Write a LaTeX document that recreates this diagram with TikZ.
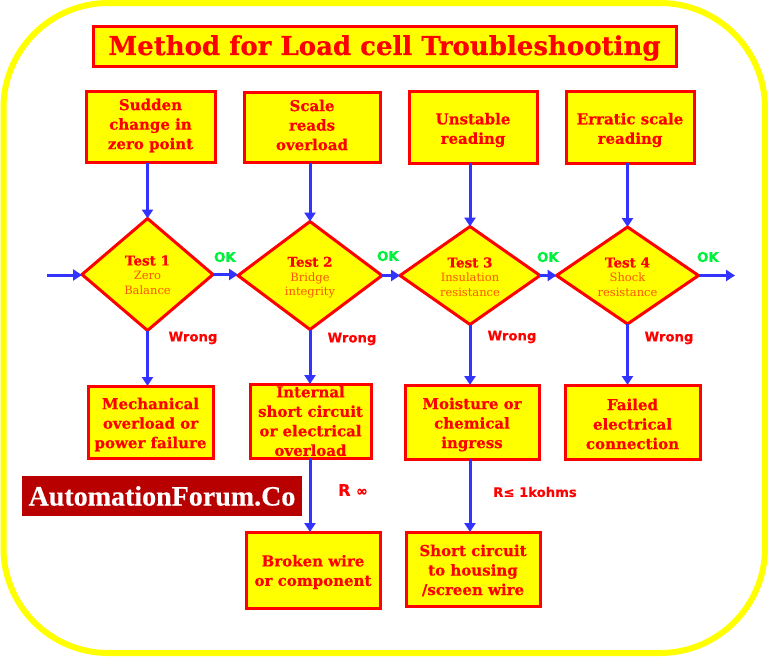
\documentclass[tikz,border=0pt]{standalone}
\usepackage{fontspec}
\setmainfont{DejaVu Serif}[BoldFeatures={FakeBold=0.5}]
\newfontfamily\lblfont{DejaVu Sans}[BoldFont={DejaVu Sans Bold},BoldFeatures={FakeBold=0.4}]
\newfontfamily\logofont{Liberation Serif}[BoldFeatures={FakeBold=0.4}]
\usetikzlibrary{shapes.geometric,arrows.meta}
\definecolor{flowblue}{RGB}{51,51,255}
\definecolor{okgreen}{RGB}{0,240,60}
\definecolor{logored}{RGB}{184,0,0}
\definecolor{thinorange}{RGB}{255,85,0}
\definecolor{pureyellow}{RGB}{255,255,0}
\definecolor{purered}{RGB}{255,0,0}
\tikzset{
  x=1pt,y=-1pt,
  boxnode/.style={draw=purered,fill=pureyellow,line width=3pt,rectangle,inner sep=0pt,outer sep=0pt,align=center,text=purered,font=\fontsize{15}{19.5}\selectfont\bfseries},
  testnode/.style={draw=purered,fill=pureyellow,line width=3pt,diamond,aspect=1.3,inner sep=0pt,outer sep=0pt,align=center,text=thinorange,font=\fontsize{11.5}{14.5}\selectfont},
  flow/.style={draw=flowblue,line width=3pt,-{Triangle[length=9pt,width=11pt]}},
  oklabel/.style={text=okgreen,inner sep=0pt,font=\lblfont\fontsize{13.5}{15}\selectfont\bfseries},
  wronglabel/.style={text=purered,inner sep=0pt,font=\lblfont\fontsize{13.2}{15}\selectfont\bfseries},
}
\newcommand{\testhead}[1]{{\color{purered}\bfseries\fontsize{13.5}{14.5}\selectfont #1}}
\newcommand{\mvl}[2]{\raisebox{#1}[\height][\depth]{#2}}
\begin{document}
\begin{tikzpicture}
\useasboundingbox (0,0) rectangle (768,656);
\fill[white] (0,0) rectangle (768,656);
\draw[pureyellow,line width=6pt,rounded corners=105pt] (3.5,3) rectangle (765,653);
% title
\node[boxnode,minimum width=583pt,minimum height=40pt,font=\fontsize{26}{30}\selectfont\bfseries] (title) at (384.5,46.5) {\mvl{-1.5pt}{Method for Load cell Troubleshooting}};
% top
\node[boxnode,minimum width=129pt,minimum height=71pt] (t1) at (150.5,127) {\mvl{1.5pt}{Sudden}\\\mvl{1.5pt}{change in}\\\mvl{1.5pt}{zero point}};
\node[boxnode,minimum width=136pt,minimum height=70pt] (t2) at (312,127.5) {\mvl{2.5pt}{Scale}\\\mvl{2.5pt}{reads}\\\mvl{2.5pt}{overload}};
\node[boxnode,minimum width=128pt,minimum height=72pt] (t3) at (473,127) {\mvl{-3pt}{Unstable}\\\mvl{-3pt}{reading}};
\node[boxnode,minimum width=128pt,minimum height=72pt] (t4) at (630,127) {\mvl{-3pt}{Erratic scale}\\\mvl{-3pt}{reading}};
% tests
\node[testnode,minimum width=131pt,minimum height=112pt] (d1) at (147.5,274.5) {\mvl{-0.5pt}{\testhead{Test 1}}\\\mvl{-0.5pt}{Zero}\\\mvl{-0.5pt}{Balance}};
\node[testnode,minimum width=144pt,minimum height=108pt] (d2) at (310,275.5) {\mvl{-2pt}{\testhead{Test 2}}\\\mvl{-2pt}{Bridge}\\\mvl{-2pt}{integrity}};
\node[testnode,minimum width=140pt,minimum height=98pt] (d3) at (470,275.5) {\mvl{-1.5pt}{\testhead{Test 3}}\\\mvl{-1.5pt}{Insulation}\\\mvl{-1.5pt}{resistance}};
\node[testnode,minimum width=142pt,minimum height=97pt] (d4) at (627.5,275.5) {\mvl{-1.5pt}{\testhead{Test 4}}\\\mvl{-1.5pt}{Shock}\\\mvl{-1.5pt}{resistance}};
% results
\node[boxnode,minimum width=125pt,minimum height=72pt] (b1) at (150.5,422) {\mvl{-2.5pt}{Mechanical}\\\mvl{-2.5pt}{overload or}\\\mvl{-2.5pt}{power failure}};
\node[boxnode,minimum width=121pt,minimum height=74pt] (b2) at (310.5,421) {Internal\\short circuit\\or electrical\\overload};
\node[boxnode,minimum width=134pt,minimum height=74pt] (b3) at (472,422) {\mvl{-2.5pt}{Moisture or}\\\mvl{-2.5pt}{chemical}\\\mvl{-2.5pt}{ingress}};
\node[boxnode,minimum width=135pt,minimum height=74pt] (b4) at (632.5,422) {\mvl{-2pt}{Failed}\\\mvl{-2pt}{electrical}\\\mvl{-2pt}{connection}};
\node[boxnode,minimum width=134pt,minimum height=76pt] (b5) at (313,570) {\mvl{-2pt}{Broken wire}\\\mvl{-2pt}{or component}};
\node[boxnode,minimum width=134pt,minimum height=74pt] (b6) at (473,569) {\mvl{-1.5pt}{Short circuit}\\\mvl{-1.5pt}{to housing}\\\mvl{-1.5pt}{/screen wire}};
% logo
\node[fill=logored,text=white,minimum width=280pt,minimum height=40pt,inner sep=0pt,font=\logofont\fontsize{28}{30}\selectfont\bfseries] (logo) at (162,496) {AutomationForum.Co};
% free ends
\coordinate (in) at (47,275);
\coordinate (out) at (735,275);
% connectors
\draw[flow] (d1.north |- t1.south) -- (d1.north);
\draw[flow] (d2.north |- t2.south) -- (d2.north);
\draw[flow] (d3.north |- t3.south) -- (d3.north);
\draw[flow] (d4.north |- t4.south) -- (d4.north);
\draw[flow] (in) -- (in -| d1.west);
\draw[flow] (d1.east) -- (d1.east -| d2.west);
\draw[flow] (d2.east) -- (d2.east -| d3.west);
\draw[flow] (d3.east) -- (d3.east -| d4.west);
\draw[flow] (d4.east) -- (d4.east -| out);
\draw[flow] (d1.south) -- (d1.south |- b1.north);
\draw[flow] (d2.south) -- (d2.south |- b2.north);
\draw[flow] (d3.south) -- (d3.south |- b3.north);
\draw[flow] (d4.south) -- (d4.south |- b4.north);
\draw[flow] (d2.south |- b2.south) -- (d2.south |- b5.north);
\draw[flow] (d3.south |- b3.south) -- (d3.south |- b6.north);
% labels
\node[oklabel] (ok1) at (225,257) {OK};
\node[oklabel] (ok2) at (388,256) {OK};
\node[oklabel] (ok3) at (548,257) {OK};
\node[oklabel] (ok4) at (708,257) {OK};
\node[wronglabel] (w1) at (193,338) {Wrong};
\node[wronglabel] (w2) at (352,339) {Wrong};
\node[wronglabel] (w3) at (512,337) {Wrong};
\node[wronglabel] (w4) at (669,338) {Wrong};
\node[wronglabel,font=\lblfont\fontsize{16}{18}\selectfont\bfseries] (rinf) at (353,490) {R {\fontsize{14}{14}\selectfont ∞}};
\node[wronglabel] (rk) at (535,492) {R≤ 1kohms};
\end{tikzpicture}
\end{document}
